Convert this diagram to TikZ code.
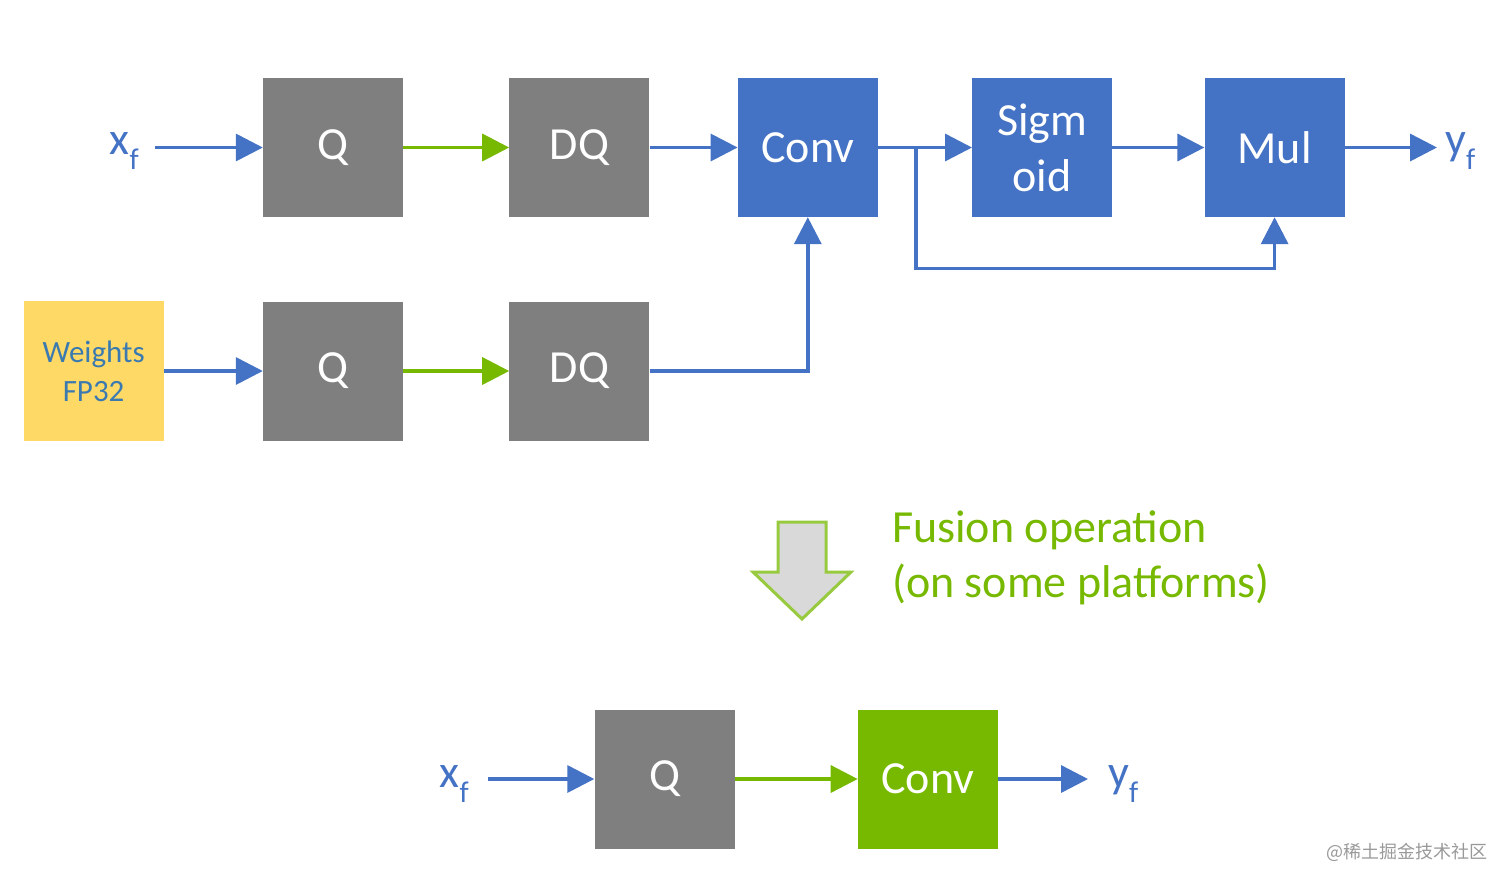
\documentclass[tikz,border=0pt]{standalone}
\usepackage{fontspec}
\setmainfont{Carlito}
\newfontfamily\cjkfont{Noto Sans CJK SC}
\usetikzlibrary{positioning, arrows.meta}
\definecolor{opgray}{HTML}{7F7F7F}
\definecolor{opblue}{HTML}{4472C4}
\definecolor{opgreen}{HTML}{76B900}
\definecolor{wtyellow}{HTML}{FFD966}
\definecolor{wttext}{HTML}{3A7AB0}
\definecolor{fusefill}{HTML}{D9D9D9}
\newcommand{\sub}[1]{\raisebox{-15pt}{\fontsize{30}{30}\selectfont #1}}
\tikzset{
  opbox/.style={minimum width=140pt, minimum height=139pt, inner sep=0pt, text=white, align=center, font=\fontsize{46}{56}\selectfont},
  grayop/.style={opbox, fill=opgray},
  blueop/.style={opbox, fill=opblue},
  greenop/.style={opbox, fill=opgreen},
  wtbox/.style={minimum width=140pt, minimum height=140pt, inner sep=0pt, fill=wtyellow, text=wttext, align=center, font=\fontsize{31}{39}\selectfont},
  iolabel/.style={inner sep=0pt, text=opblue, font=\fontsize{46}{50}\selectfont},
  bline/.style={draw=opblue, line width=3.5pt, -{Triangle[length=27pt, width=27pt]}},
  gline/.style={bline, draw=opgreen},
}

\begin{document}
\begin{tikzpicture}[x=1pt, y=-1pt]
  \useasboundingbox (0,0) rectangle (1512,887);
  % activation path
  \node [grayop] (q1) at (333,147.5) {Q};
  \node [grayop, right=106pt of q1] (dq1) {DQ};
  \node [blueop, right=88pt of dq1] (conv) {Conv};
  \node [blueop, right=94pt of conv] (sig) {Sigm\\oid};
  \node [blueop, right=92pt of sig] (mul) {Mul};
  \node [iolabel, anchor=base east] (x1) at (139,154) {x\sub{f}};
  \node [iolabel, anchor=base west] (y1) at (1445,154) {y\sub{f}};
  % weight path
  \node [grayop] (q2) at (333,371) {Q};
  \node [grayop, right=106pt of q2] (dq2) {DQ};
  \node [wtbox, left=99pt of q2] (wts) {Weights\\FP32};
  % fused result
  \node [grayop] (q3) at (664.5,779) {Q};
  \node [greenop, right=123pt of q3] (conv3) {Conv};
  \node [iolabel, anchor=base east] (x2) at (469,787) {x\sub{f}};
  \node [iolabel, anchor=base west] (y2) at (1108,787) {y\sub{f}};

  \draw[bline, shorten <=16pt] (x1.east |- q1) -- (q1);
  \draw[gline] (q1) -- (dq1);
  \draw[bline] (dq1) -- (conv);
  \draw[bline] (conv) -- (sig);
  \draw[bline] (sig) -- (mul);
  \draw[bline, shorten >=8pt] (mul) -- (y1.west |- mul);
  \coordinate (tap) at ([xshift=38pt]conv.east);
  \coordinate (loop) at ([yshift=-121pt]tap);
  \draw[bline] (tap) -- (loop) -| (mul);

  \draw[bline] (wts) -- (q2);
  \draw[gline] (q2) -- (dq2);
  \draw[bline] (dq2) -| (conv);

  \draw[bline, shorten <=19pt] (x2.east |- q3) -- (q3);
  \draw[gline] (q3) -- (conv3);
  \draw[bline, shorten >=20pt] (conv3) -- (y2.west |- conv3);

  % fusion step
  \draw[opgreen!75, line width=3pt, fill=fusefill, line join=miter]
    (778,522) -- (826,522) -- (826,572) -- (851,572) -- (802,619)
    -- (753,572) -- (778,572) -- cycle;
  \node [anchor=west, inner sep=0pt, text=opgreen, align=left, font=\fontsize{46}{55}\selectfont] (note) at (892,558) {Fusion operation\\(on some platforms)};

  \node [anchor=east, inner sep=0pt, text=black!40, font=\cjkfont\fontsize{18}{18}\selectfont] (mark) at (1488,852) {@稀土掘金技术社区};
\end{tikzpicture}
\end{document}
